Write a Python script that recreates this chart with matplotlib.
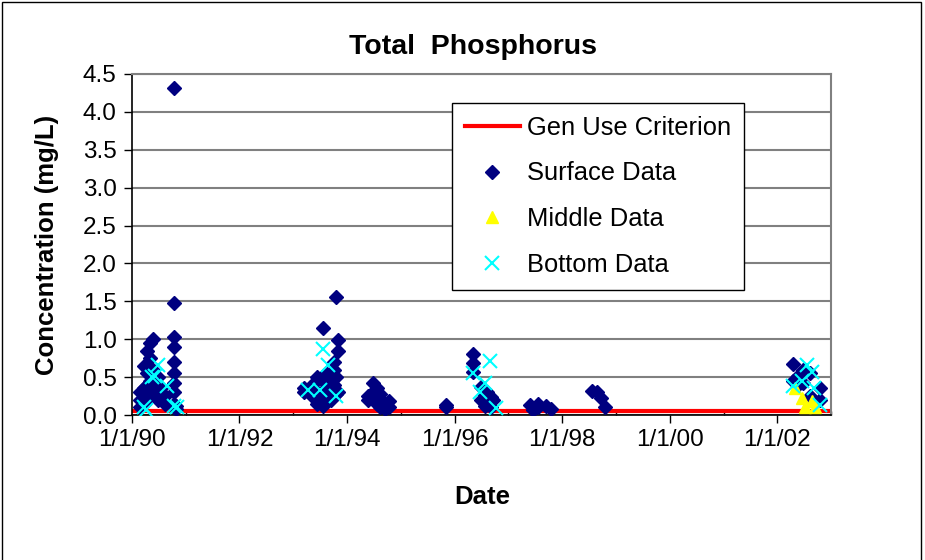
import pandas as pd
import matplotlib
matplotlib.use("Agg")
import matplotlib.pyplot as plt
import matplotlib.dates as mdates
from matplotlib.patches import Rectangle
from matplotlib.ticker import FuncFormatter, MultipleLocator

plt.rcParams['font.family'] = ['Liberation Sans', 'DejaVu Sans']

# criterion line (mg/L)
criterion_dates = ['1990-01-01', '2003-01-01']
criterion_values = [0.05, 0.05]

# surface samples
surface_dates = [
    '1990-02-24', '1990-02-24', '1990-02-24',
    '1990-03-21', '1990-03-21', '1990-03-21',
    '1990-04-12', '1990-04-12', '1990-04-12',
    '1990-05-01', '1990-05-01', '1990-05-01', '1990-05-01',
    '1990-05-26', '1990-05-26', '1990-05-26',
    '1990-06-24', '1990-06-24', '1990-06-24',
    '1990-07-20', '1990-07-20',
    '1990-08-14', '1990-08-14',
    '1990-10-12', '1990-10-12', '1990-10-12', '1990-10-12', '1990-10-12',
    '1990-10-12', '1990-10-12', '1990-10-12', '1990-10-12', '1990-10-12',
    '1990-10-27', '1990-10-27',
    '1993-03-15', '1993-03-15',
    '1993-05-08', '1993-05-08',
    '1993-06-14', '1993-06-14', '1993-06-14',
    '1993-07-20', '1993-07-20', '1993-07-20', '1993-07-20',
    '1993-08-14', '1993-08-14',
    '1993-09-13', '1993-09-13', '1993-09-13',
    '1993-10-01', '1993-10-01', '1993-10-01',
    '1993-10-16', '1993-10-16', '1993-10-16',
    '1993-11-03', '1993-11-03', '1993-11-03',
    '1994-05-26', '1994-05-26',
    '1994-06-28', '1994-06-28',
    '1994-07-20', '1994-07-20',
    '1994-08-14', '1994-08-14', '1994-08-14',
    '1994-09-13', '1994-09-13',
    '1994-10-12', '1994-10-12',
    '1995-11-03', '1995-11-03',
    '1996-05-08', '1996-05-08', '1996-05-08',
    '1996-07-01', '1996-07-01',
    '1996-07-23', '1996-07-23',
    '1996-08-08', '1996-08-08',
    '1996-09-06', '1996-09-06',
    '1996-09-20',
    '1997-05-26', '1997-06-14', '1997-07-20', '1997-07-20',
    '1997-09-13', '1997-10-20',
    '1998-07-20', '1998-08-26', '1998-09-20', '1998-10-20',
    '2002-04-20', '2002-04-20',
    '2002-05-20', '2002-05-20',
    '2002-06-28', '2002-06-28',
    '2002-08-14', '2002-08-14',
    '2002-10-20', '2002-10-20',
]
surface_values = [
    0.10, 0.20, 0.30,
    0.35, 0.65, 0.15,
    0.55, 0.85, 0.40,
    0.95, 0.75, 0.45, 0.25,
    1.00, 0.60, 0.30,
    0.50, 0.40, 0.20,
    0.35, 0.25,
    0.15, 0.25,
    4.32, 1.48, 1.03, 0.90, 0.70, 0.55, 0.42, 0.30, 0.15, 0.10,
    0.12, 0.08,
    0.30, 0.35,
    0.40, 0.25,
    0.50, 0.30, 0.15,
    1.15, 0.45, 0.20, 0.12,
    0.55, 0.35,
    0.45, 0.30, 0.20,
    0.70, 0.60, 0.40,
    1.56, 0.50, 0.28,
    0.99, 0.85, 0.30,
    0.25, 0.20,
    0.42, 0.30,
    0.35, 0.15,
    0.28, 0.20, 0.10,
    0.15, 0.08,
    0.18, 0.10,
    0.11, 0.13,
    0.81, 0.68, 0.57,
    0.37, 0.20,
    0.26, 0.12,
    0.30, 0.15,
    0.24, 0.10,
    0.20,
    0.13, 0.06, 0.15, 0.11,
    0.12, 0.08,
    0.32, 0.31, 0.22, 0.10,
    0.67, 0.45,
    0.51, 0.40,
    0.60, 0.42,
    0.55, 0.25,
    0.35, 0.20,
]

# middle samples
middle_dates = ['2002-05-01', '2002-06-17', '2002-07-08', '2002-08-22', '2002-09-15']
middle_values = [0.36, 0.22, 0.11, 0.18, 0.11]

# bottom samples
bottom_dates = [
    '1990-03-25', '1990-04-05', '1990-05-15', '1990-06-05', '1990-06-28',
    '1990-08-25', '1990-10-12', '1990-11-05',
    '1993-04-12', '1993-07-01', '1993-07-23', '1993-08-22', '1993-10-20',
    '1996-05-08', '1996-06-20', '1996-07-26', '1996-08-28', '1996-10-08',
    '2002-04-20', '2002-06-17', '2002-07-20', '2002-08-22', '2002-09-06', '2002-10-15',
]
bottom_values = [
    0.10, 0.07, 0.50, 0.52, 0.66,
    0.38, 0.12, 0.10,
    0.33, 0.33, 0.87, 0.66, 0.25,
    0.55, 0.31, 0.42, 0.71, 0.09,
    0.38, 0.45, 0.66, 0.57, 0.35, 0.13,
]

fig = plt.figure(figsize=(9.25, 5.6), dpi=100)
ax = fig.add_axes([132 / 925, 1 - 415 / 560, 699 / 925, 341 / 560])

ax.plot(pd.to_datetime(criterion_dates), criterion_values, color='#ff0000', lw=3,
        label='Gen Use Criterion', zorder=2)
ax.plot(pd.to_datetime(surface_dates), surface_values, ls='none', marker='D', ms=7,
        color='#000080', label='Surface Data', zorder=3)
ax.plot(pd.to_datetime(middle_dates), middle_values, ls='none', marker='^', ms=9,
        color='#ffff00', label='Middle Data', zorder=4)
ax.plot(pd.to_datetime(bottom_dates), bottom_values, ls='none', marker='x', ms=10, mew=1.5,
        color='#00ffff', label='Bottom Data', zorder=5)

ax.set_xlim(pd.Timestamp('1990-01-01'), pd.Timestamp('2003-01-01'))
ax.set_ylim(0, 4.5)

ax.xaxis.set_major_locator(mdates.YearLocator(2))
ax.xaxis.set_minor_locator(mdates.YearLocator(1))
ax.xaxis.set_major_formatter(FuncFormatter(
    lambda v, p: (lambda d: f"{d.month}/{d.day}/{d:%y}")(mdates.num2date(v))))
ax.yaxis.set_major_locator(MultipleLocator(0.5))
ax.yaxis.set_major_formatter(FuncFormatter(lambda v, p: f"{v:.1f}"))

ax.tick_params(axis='both', which='major', direction='out', length=6, width=1,
               labelsize=17.5, color='black')
ax.tick_params(axis='x', which='major', pad=4)
ax.tick_params(axis='y', which='major', pad=5)
ax.tick_params(axis='x', which='minor', direction='in', length=3, width=1)

ax.grid(axis='y', color='#808080', lw=1.5)
ax.set_axisbelow(True)
for side in ['left', 'bottom']:
    ax.spines[side].set_color('black')
    ax.spines[side].set_linewidth(1.2)
for side in ['top', 'right']:
    ax.spines[side].set_color('#808080')
    ax.spines[side].set_linewidth(1.5)

ax.set_ylabel('Concentration (mg/L)', fontsize=18.5, fontweight='bold', va='center')
ax.yaxis.set_label_coords((47 - 132) / 699, 0.5)
ax.set_xlabel('Date', fontsize=18.5, fontweight='bold', va='center')
ax.xaxis.set_label_coords((482 - 132) / 699, (415 - 497) / 341)

fig.text(473 / 925, 1 - 47 / 560, 'Total  Phosphorus', fontsize=20.5, fontweight='bold',
         ha='center', va='center')

leg = ax.legend(loc='upper left', bbox_to_anchor=(452 / 925, 1 - 103 / 560),
                bbox_transform=fig.transFigure, borderaxespad=0, fontsize=18.4,
                numpoints=1, handlelength=2.15, handletextpad=0.3, borderpad=0.5,
                labelspacing=0.85, fancybox=False, framealpha=1)
leg.get_frame().set_edgecolor('black')
leg.get_frame().set_linewidth(1)

# outer chart border
fig.patches.append(Rectangle((0.002, -0.05), 0.994, 1.047, transform=fig.transFigure,
                             fill=False, edgecolor='black', lw=1))

fig.savefig('out.png', dpi=100)
